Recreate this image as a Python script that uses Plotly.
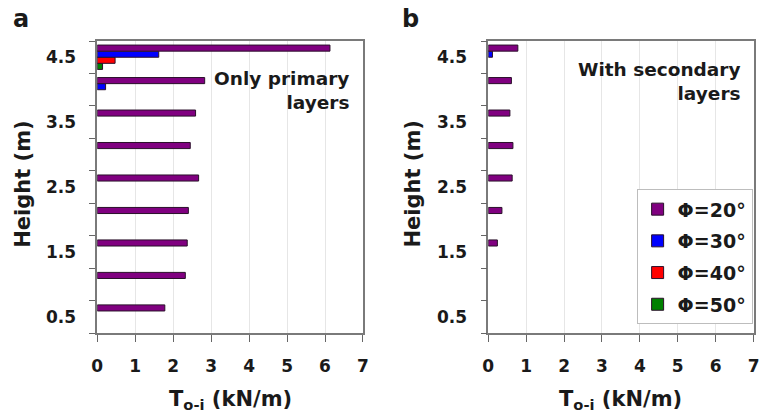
import plotly.graph_objects as go

# Layer heights (m)
heights = [0.5, 1.0, 1.5, 2.0, 2.5, 3.0, 3.5, 4.0, 4.5]

# Panel a: only primary layers, T_o-i (kN/m)
a_phi20 = [1.78, 2.32, 2.37, 2.40, 2.67, 2.45, 2.59, 2.83, 6.13]
a_phi30 = [0, 0, 0, 0, 0, 0, 0, 0.22, 1.62]
a_phi40 = [0, 0, 0, 0, 0, 0, 0, 0, 0.47]
a_phi50 = [0, 0, 0, 0, 0, 0, 0, 0, 0.14]

# Panel b: with secondary layers, T_o-i (kN/m)
b_phi20 = [0, 0, 0.24, 0.36, 0.63, 0.65, 0.57, 0.61, 0.78]
b_phi30 = [0, 0, 0, 0, 0, 0, 0, 0, 0.11]
b_phi40 = [0, 0, 0, 0, 0, 0, 0, 0, 0]
b_phi50 = [0, 0, 0, 0, 0, 0, 0, 0, 0]

series_names = ["Φ=20°", "Φ=30°", "Φ=40°", "Φ=50°"]
series_colors = ["#800080", "#0000ff", "#ff0000", "#008000"]
panel_a = [a_phi20, a_phi30, a_phi40, a_phi50]
panel_b = [b_phi20, b_phi30, b_phi40, b_phi50]

x_ticks = [0, 1, 2, 3, 4, 5, 6, 7]
y_tickvals = [0.5, 1.5, 2.5, 3.5, 4.5]
y_ticktext = ["0.5", "1.5", "2.5", "3.5", "4.5"]

FONT = "DejaVu Sans, Arial, sans-serif"
TXT = "#1a1a1a"
W, H = 763, 419


def nonzero(vals):
    # a zero force gets no bar (avoids a bare outline on the axis)
    return [v if v > 0 else None for v in vals]


fig = go.Figure()

# horizontal grouped bars: the last trace added sits at the top of each group,
# so add Φ=50° first and Φ=20° last
for idx in reversed(range(4)):
    for vals, xa, ya, show in ((panel_a[idx], "x", "y", False),
                               (panel_b[idx], "x2", "y2", True)):
        fig.add_trace(go.Bar(
            x=nonzero(vals), y=heights, orientation="h",
            name=series_names[idx], legendgroup=series_names[idx],
            legendrank=idx + 1, showlegend=show,
            marker=dict(color=series_colors[idx],
                        line=dict(color="#2a102a", width=1)),
            xaxis=xa, yaxis=ya,
        ))


def px_x(v):
    return v / W


def px_y(v):
    return 1 - v / H


top_px, bot_px = 41.0, 333.3
ydom = [px_y(bot_px), px_y(top_px)]

xaxis_common = dict(
    range=[0, 7], tickvals=x_ticks, ticks="outside", ticklen=7,
    tickcolor="#666", tickwidth=1.2,
    tickfont=dict(family=FONT, size=17, color=TXT, weight="bold"),
    ticklabelstandoff=10,
    showgrid=True, gridcolor="#e6e6e6", gridwidth=1, zeroline=False,
    showline=True, linecolor="#7a7a7a", linewidth=1.5, mirror=True,
    fixedrange=True,
)
yaxis_common = dict(
    range=[0.25, 4.75], tickvals=y_tickvals, ticktext=y_ticktext,
    ticks="", tickfont=dict(family=FONT, size=17, color=TXT, weight="bold"),
    ticklabelstandoff=16,
    minor=dict(tick0=0.25, dtick=0.5, ticks="outside", ticklen=6,
               tickcolor="#666", tickwidth=1.2, showgrid=False),
    showgrid=False, zeroline=False,
    showline=True, linecolor="#7a7a7a", linewidth=1.5, mirror=True,
    fixedrange=True, domain=ydom,
)

fig.update_layout(
    width=W, height=H, autosize=False,
    margin=dict(l=0, r=0, t=0, b=0),
    paper_bgcolor="white", plot_bgcolor="white",
    barmode="group", bargap=0.25, bargroupgap=0,
    xaxis=dict(domain=[px_x(92.7), px_x(362.7)], anchor="y", **xaxis_common),
    yaxis=dict(anchor="x", **yaxis_common),
    xaxis2=dict(domain=[px_x(490), px_x(759.5)], anchor="y2", **xaxis_common),
    yaxis2=dict(anchor="x2", **yaxis_common),
    legend=dict(
        x=px_x(640.7), y=px_y(189.3), xanchor="left", yanchor="top",
        bgcolor="white", bordercolor="#bdbdbd", borderwidth=1,
        font=dict(family=FONT, size=19, color=TXT, weight="bold"),
        traceorder="grouped", tracegroupgap=4,
    ),
    showlegend=True,
)

ann = []
# panel letters
ann.append(dict(text="<b>a</b>", x=px_x(5), y=px_y(19), xanchor="left", yanchor="middle"))
ann.append(dict(text="<b>b</b>", x=px_x(400), y=px_y(19), xanchor="left", yanchor="middle"))
for a in ann:
    a.update(xref="paper", yref="paper", showarrow=False,
             font=dict(family=FONT, size=24, color=TXT))

# axis titles
for cx in (227.7, 624.7):
    ann.append(dict(text="<b>T<sub>o-i</sub> (kN/m)</b>", x=px_x(cx), y=px_y(400),
                    xanchor="center", yanchor="middle", xref="paper", yref="paper",
                    showarrow=False, font=dict(family=FONT, size=21, color=TXT)))
for cx in (17, 413):
    ann.append(dict(text="<b>Height (m)</b>", x=px_x(cx), y=px_y(184), textangle=-90,
                    xanchor="center", yanchor="middle", xref="paper", yref="paper",
                    showarrow=False, font=dict(family=FONT, size=21, color=TXT)))

# panel notes
ann.append(dict(text="<b>Only primary<br>layers</b>", x=px_x(351), y=px_y(66),
                xanchor="right", yanchor="top", align="right", xref="paper", yref="paper",
                showarrow=False, font=dict(family=FONT, size=18.5, color=TXT)))
ann.append(dict(text="<b>With secondary<br>layers</b>", x=px_x(749), y=px_y(57),
                xanchor="right", yanchor="top", align="right", xref="paper", yref="paper",
                showarrow=False, font=dict(family=FONT, size=18.5, color=TXT)))

fig.update_layout(annotations=ann)

fig.write_html("out.html")
